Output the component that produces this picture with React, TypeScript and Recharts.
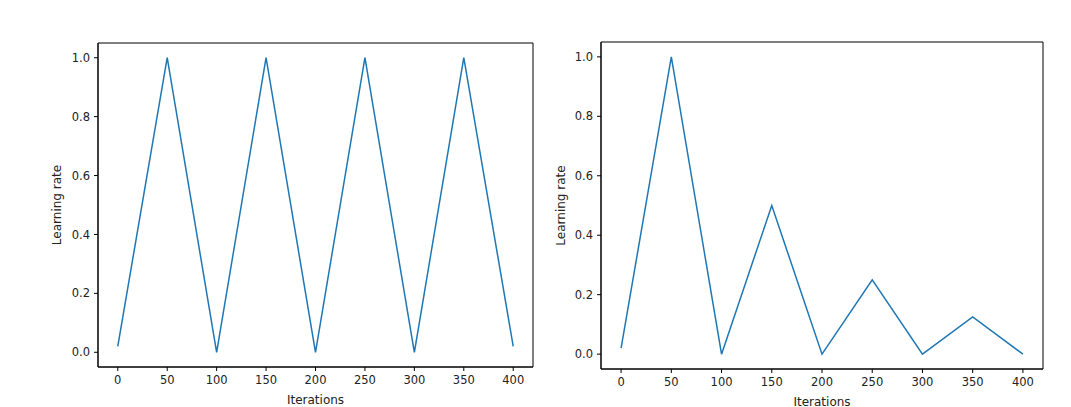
import React from 'react';
import { LineChart, Line, XAxis, YAxis, Label, ReferenceArea } from 'recharts';

const iterations = [0, 50, 100, 150, 200, 250, 300, 350, 400];
const triangularLr = [0.02, 1.0, 0.0, 1.0, 0.0, 1.0, 0.0, 1.0, 0.02];
const triangular2Lr = [0.02, 1.0, 0.0, 0.5, 0.0, 0.25, 0.0, 0.125, 0.0];
const xTicks = [0, 50, 100, 150, 200, 250, 300, 350, 400];
const yTicks = [0, 0.2, 0.4, 0.6, 0.8, 1.0];
const xDomain = [-20, 420];
const yDomain = [-0.05, 1.05];

const FONT = '"DejaVu Sans", sans-serif';
const INK = '#222';
const tickStyle = { fill: INK, fontSize: 11.5, fontFamily: FONT };

const xTitle = (props: any) => {
  const vb = props.viewBox || {};
  return (
    <text x={vb.x + vb.width / 2} y={vb.y + 33} textAnchor="middle" dominantBaseline="middle"
      fill={INK} fontSize={12} fontFamily={FONT}>Iterations</text>
  );
};

const yTitle = (cx: number) => (props: any) => {
  const vb = props.viewBox || {};
  const y = vb.y + vb.height / 2;
  return (
    <text x={cx} y={y} transform={`rotate(-90, ${cx}, ${y})`} textAnchor="middle" dominantBaseline="middle"
      fill={INK} fontSize={12} fontFamily={FONT}>Learning rate</text>
  );
};

interface PanelProps {
  values: number[];
  left: number;
  width: number;
  top: number;
  bottom: number;
  yAxisWidth: number;
  right: number;
  titleX: number;
}

const Panel: React.FC<PanelProps> = ({ values, left, width, top, bottom, yAxisWidth, right, titleX }) => {
  const data = iterations.map((it, i) => ({ it, lr: values[i] }));
  return (
    <div style={{ position: 'absolute', left, top: 0 }}>
      <LineChart width={width} height={407} data={data}
        margin={{ top, right, bottom: 0, left: 0 }}>
        <XAxis dataKey="it" type="number" domain={xDomain} ticks={xTicks} allowDataOverflow
          height={bottom} tickSize={4} tickMargin={5} tick={tickStyle}
          axisLine={{ stroke: '#000' }} tickLine={{ stroke: '#000' }}>
          <Label content={xTitle} />
        </XAxis>
        <YAxis type="number" domain={yDomain} ticks={yTicks} allowDataOverflow
          width={yAxisWidth} tickSize={4} tickMargin={4} tick={tickStyle}
          tickFormatter={(v: number) => v.toFixed(1)}
          axisLine={{ stroke: '#000' }} tickLine={{ stroke: '#000' }}>
          <Label content={yTitle(titleX)} />
        </YAxis>
        {/* plot frame, like matplotlib's spines */}
        <ReferenceArea x1={xDomain[0]} x2={xDomain[1]} y1={yDomain[0]} y2={yDomain[1]}
          fill="none" fillOpacity={0} stroke="#000" strokeWidth={1} ifOverflow="visible" />
        <Line type="linear" dataKey="lr" stroke="#1f77b4" strokeWidth={1.5} dot={false}
          isAnimationActive={false} />
      </LineChart>
    </div>
  );
};

export default function App() {
  return (
    <div style={{ position: 'fixed', left: 0, top: 0, width: 1071, height: 407, background: '#fff' }}>
      <Panel values={triangularLr} left={0} width={560} top={43} bottom={40}
        yAxisWidth={98} right={27} titleX={57} />
      <Panel values={triangular2Lr} left={545} width={526} top={42} bottom={38}
        yAxisWidth={56} right={28} titleX={16} />
    </div>
  );
}
